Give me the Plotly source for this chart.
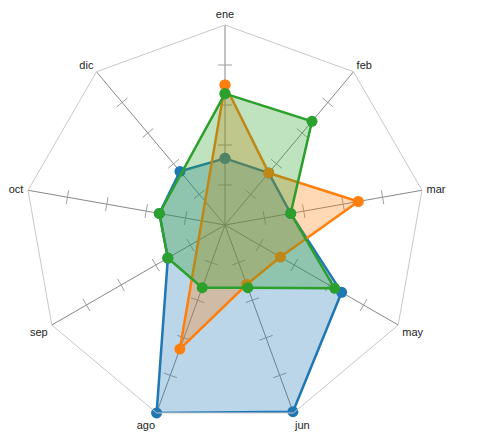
import plotly.graph_objects as go

# categorías (meses) y series
meses = ["ene", "feb", "mar", "may", "jun", "ago", "sep", "oct", "dic"]

serie_azul = [1.0, 1.02, 1.0, 2.02, 2.98, 3.0, 0.99, 1.0, 1.05]
serie_naranja = [2.1, 1.02, 2.03, 0.96, 0.95, 1.98]
serie_verde = [1.97, 2.03, 1.0, 1.9, 1.0, 1.0, 0.99, 1.0]

# marcas de escala sobre cada radio
marcas = [0.6, 1.2, 1.8, 2.4]

colores = ["#1f77b4", "#ff7f0e", "#2ca02c"]
rellenos = ["rgba(31,119,180,0.3)", "rgba(255,127,14,0.3)", "rgba(44,160,44,0.3)"]

fig = go.Figure()

# pequeñas marcas perpendiculares a cada radio
tick_r, tick_theta, tick_ang = [], [], []
for i, m in enumerate(meses):
    for v in marcas:
        tick_r.append(v)
        tick_theta.append(m)
        tick_ang.append(i * 360 / len(meses))

fig.add_trace(
    go.Scatterpolar(
        r=tick_r,
        theta=tick_theta,
        mode="markers",
        marker=dict(
            symbol="line-ew",
            size=10,
            angle=tick_ang,
            line=dict(color="#a0a0a0", width=1),
        ),
        hoverinfo="skip",
    )
)

series = [serie_azul, serie_naranja, serie_verde]
for valores, color, relleno in zip(series, colores, rellenos):
    cats = meses[: len(valores)]
    # se repite el primer punto para cerrar el contorno
    fig.add_trace(
        go.Scatterpolar(
            r=valores + valores[:1],
            theta=cats + cats[:1],
            mode="lines+markers",
            fill="toself",
            fillcolor=relleno,
            line=dict(color=color, width=2.5),
            marker=dict(color=color, size=11),
        )
    )

fig.update_layout(
    width=483,
    height=446,
    margin=dict(l=17, r=66, t=17, b=29),
    paper_bgcolor="white",
    plot_bgcolor="white",
    showlegend=False,
    font=dict(family="Liberation Sans, Arial", size=11, color="#222222"),
    polar=dict(
        bgcolor="white",
        gridshape="linear",
        radialaxis=dict(
            range=[0, 3],
            visible=False,
        ),
        angularaxis=dict(
            type="category",
            categoryarray=meses,
            rotation=90,
            direction="clockwise",
            showline=True,
            linecolor="#c8c8c8",
            linewidth=1,
            showgrid=True,
            gridcolor="#888888",
            gridwidth=1,
            ticks="outside",
            ticklen=2,
            tickcolor="rgba(0,0,0,0)",
            tickfont=dict(size=11, color="#222222"),
        ),
    ),
)

fig.write_html("out.html")
